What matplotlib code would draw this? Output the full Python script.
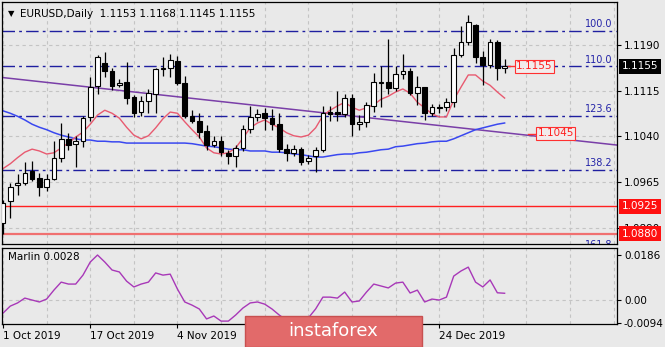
import matplotlib
matplotlib.use('Agg')
import matplotlib.pyplot as plt
from matplotlib.patches import Rectangle
from matplotlib.transforms import blended_transform_factory

# EURUSD daily candles, 1 Oct 2019 .. 6 Jan 2020 (bar index 0..69)
opens = [1.0898, 1.0933, 1.0960, 1.0964, 1.0983, 1.0972, 1.0956, 1.0970, 1.1005, 1.1035,
         1.1027, 1.1032, 1.1072, 1.1123, 1.1160, 1.1147, 1.1125, 1.1129, 1.1105, 1.1080,
         1.1098, 1.1110, 1.1150, 1.1152, 1.1164, 1.1128, 1.1074, 1.1066, 1.1049, 1.1025,
         1.1033, 1.1012, 1.1007, 1.1021, 1.1052, 1.1072, 1.1078, 1.1071, 1.1060, 1.1020,
         1.1013, 1.1019, 1.0999, 1.1008, 1.1018, 1.1080, 1.1080, 1.1077, 1.1103, 1.1060,
         1.1064, 1.1090, 1.1128, 1.1130, 1.1120, 1.1143, 1.1148, 1.1112, 1.1121, 1.1078,
         1.1089, 1.1088, 1.1097, 1.1174, 1.1196, 1.1223, 1.1171, 1.1157, 1.1195, 1.1153]
highs = [1.0935, 1.0964, 1.0978, 1.0998, 1.0999, 1.0980, 1.0978, 1.1032, 1.1062, 1.1046,
         1.1040, 1.1073, 1.1137, 1.1174, 1.1179, 1.1152, 1.1135, 1.1162, 1.1108, 1.1107,
         1.1118, 1.1152, 1.1170, 1.1176, 1.1172, 1.1140, 1.1083, 1.1078, 1.1058, 1.1040,
         1.1040, 1.1018, 1.1025, 1.1058, 1.1090, 1.1085, 1.1087, 1.1085, 1.1078, 1.1027,
         1.1025, 1.1023, 1.1010, 1.1022, 1.1090, 1.1090, 1.1115, 1.1110, 1.1110, 1.1075,
         1.1097, 1.1145, 1.1155, 1.1200, 1.1155, 1.1175, 1.1152, 1.1140, 1.1122, 1.1093,
         1.1093, 1.1103, 1.1186, 1.1222, 1.1240, 1.1225, 1.1180, 1.1200, 1.1198, 1.1168]
lows = [1.0879, 1.0905, 1.0943, 1.0960, 1.0966, 1.0942, 1.0950, 1.0968, 1.0998, 1.1018,
        1.0990, 1.1022, 1.1065, 1.1110, 1.1137, 1.1116, 1.1121, 1.1093, 1.1072, 1.1074,
        1.1078, 1.1078, 1.1140, 1.1137, 1.1124, 1.1070, 1.1062, 1.1037, 1.1018, 1.1022,
        1.1008, 1.0995, 1.0990, 1.1016, 1.1045, 1.1065, 1.1051, 1.1051, 1.1014, 1.1000,
        1.1008, 1.0993, 1.0995, 1.0982, 1.1015, 1.1065, 1.1065, 1.1072, 1.1040, 1.1050,
        1.1055, 1.1080, 1.1088, 1.1110, 1.1115, 1.1135, 1.1108, 1.1092, 1.1067, 1.1074,
        1.1078, 1.1082, 1.1088, 1.1170, 1.1190, 1.1160, 1.1125, 1.1152, 1.1132, 1.1145]
closes = [1.0930, 1.0957, 1.0963, 1.0980, 1.0970, 1.0956, 1.0970, 1.1005, 1.1036, 1.1025,
          1.1032, 1.1070, 1.1122, 1.1170, 1.1147, 1.1123, 1.1128, 1.1103, 1.1079, 1.1098,
          1.1111, 1.1150, 1.1153, 1.1165, 1.1128, 1.1073, 1.1066, 1.1048, 1.1025, 1.1032,
          1.1014, 1.1007, 1.1021, 1.1052, 1.1072, 1.1077, 1.1070, 1.1060, 1.1020, 1.1013,
          1.1019, 1.0998, 1.1005, 1.1017, 1.1078, 1.1077, 1.1077, 1.1103, 1.1060, 1.1064,
          1.1092, 1.1129, 1.1130, 1.1120, 1.1143, 1.1148, 1.1112, 1.1121, 1.1078, 1.1089,
          1.1086, 1.1096, 1.1174, 1.1195, 1.1228, 1.1170, 1.1158, 1.1195, 1.1152, 1.1155]

# fast (red) and slow (blue) moving averages
ma_fast = [1.0987, 1.0995, 1.1005, 1.1014, 1.1019, 1.1016, 1.1011, 1.1013, 1.1021, 1.1029,
           1.1039, 1.1047, 1.1060, 1.1075, 1.1083, 1.1078, 1.1070, 1.1055, 1.1042, 1.1036,
           1.1041, 1.1054, 1.1069, 1.1080, 1.1078, 1.1064, 1.1051, 1.1039, 1.1021, 1.1013,
           1.1011, 1.1013, 1.1021, 1.1037, 1.1054, 1.1062, 1.1067, 1.1060, 1.1054, 1.1046,
           1.1041, 1.1039, 1.1042, 1.1054, 1.1074, 1.1083, 1.1090, 1.1096, 1.1088, 1.1083,
           1.1087, 1.1092, 1.1101, 1.1106, 1.1113, 1.1118, 1.1111, 1.1096, 1.1087, 1.1077,
           1.1072, 1.1072, 1.1100, 1.1121, 1.1141, 1.1141, 1.1131, 1.1124, 1.1113, 1.1103]
ma_slow = [1.1082, 1.1078, 1.1073, 1.1067, 1.1060, 1.1055, 1.1051, 1.1046, 1.1042, 1.1039,
           1.1036, 1.1034, 1.1034, 1.1032, 1.1032, 1.1031, 1.1031, 1.1029, 1.1029, 1.1029,
           1.1029, 1.1029, 1.1029, 1.1029, 1.1029, 1.1029, 1.1028, 1.1026, 1.1024, 1.1023,
           1.1021, 1.1019, 1.1018, 1.1018, 1.1016, 1.1016, 1.1016, 1.1014, 1.1014, 1.1013,
           1.1011, 1.1010, 1.1008, 1.1006, 1.1006, 1.1008, 1.1010, 1.1011, 1.1011, 1.1013,
           1.1014, 1.1016, 1.1018, 1.1019, 1.1023, 1.1024, 1.1026, 1.1028, 1.1029, 1.1031,
           1.1032, 1.1032, 1.1036, 1.1041, 1.1046, 1.1051, 1.1054, 1.1057, 1.1060, 1.1062]

# Marlin oscillator
marlin = [-0.0054, -0.0025, -0.0012, 0.0008, 0.0000, -0.0008, 0.0004, 0.0041, 0.0074, 0.0066,
          0.0066, 0.0103, 0.0157, 0.0186, 0.0157, 0.0124, 0.0116, 0.0078, 0.0054, 0.0066,
          0.0074, 0.0112, 0.0103, 0.0107, 0.0045, -0.0008, -0.0021, -0.0037, -0.0078, -0.0066,
          -0.0087, -0.0087, -0.0062, -0.0033, -0.0012, -0.0008, -0.0017, -0.0037, -0.0062, -0.0083,
          -0.0091, -0.0094, -0.0074, -0.0037, 0.0012, 0.0012, 0.0008, 0.0033, -0.0008, -0.0004,
          0.0033, 0.0066, 0.0058, 0.0050, 0.0070, 0.0074, 0.0029, 0.0041, -0.0008, 0.0004,
          0.0000, 0.0012, 0.0099, 0.0120, 0.0136, 0.0074, 0.0054, 0.0083, 0.0030, 0.0028]

fib_labels = ['100.0', '110.0', '123.6', '138.2', '161.8']
fib_levels = [1.1213, 1.1155, 1.1073, 1.0985, 1.0850]
support_levels = [1.0925, 1.0880]
trend_x = [-1, 85]
trend_y = [1.1138, 1.1025]
target_labels = ['1.1155', '1.1045']
target_prices = [1.1155, 1.1045]

price_ticks = [1.1190, 1.1115, 1.1040, 1.0965, 1.0890]
date_ticks = [0, 12, 24, 60]
date_labels = ['1 Oct 2019', '17 Oct 2019', '4 Nov 2019', '24 Dec 2019']

BG = '#e9e9e9'
plt.rcParams['font.family'] = 'DejaVu Sans'

fig = plt.figure(figsize=(6.65, 3.47), dpi=100, facecolor=BG)
ax = fig.add_axes([2 / 665, 1 - 244 / 347, 615 / 665, 242 / 347], facecolor=BG)
ax2 = fig.add_axes([2 / 665, 1 - 324 / 347, 615 / 665, 76 / 347], facecolor=BG, sharex=ax)

xs = list(range(len(opens)))

# grid
grid_kw = dict(color='#c4c4c4', lw=0.8, ls=(0, (3, 3)), zorder=0)
for t in range(0, 85, 6):
    ax.axvline(t, **grid_kw)
    ax2.axvline(t, **grid_kw)
for p in price_ticks:
    ax.axhline(p, **grid_kw)
ax2.axhline(0, **grid_kw)

# fibo levels
for lab, lv in zip(fib_labels, fib_levels):
    ax.axhline(lv, color='#1f1fa0', lw=1.0, ls=(0, (9, 3, 2, 3)), zorder=1)
    ax.text(83.8, lv + 0.0003, lab, color='#2424a8', fontsize=7, ha='right', va='bottom',
            zorder=1, clip_on=True)

ax.axhline(support_levels[0], color='#ff2020', lw=1.0, zorder=1)
ax.axhline(support_levels[1], color='#f07070', lw=1.6, zorder=1)

ax.plot(trend_x, trend_y, color='#7a3fa8', lw=1.1, zorder=2)
ax.plot(xs, ma_slow, color='#3a48f0', lw=1.1, zorder=2)
ax.plot(xs, ma_fast, color='#e85a70', lw=1.0, zorder=2)

# candles
for i in xs:
    o, h, l, c = opens[i], highs[i], lows[i], closes[i]
    ax.vlines(i, l, h, color='black', lw=0.9, zorder=3)
    lo = min(o, c)
    hgt = max(abs(c - o), 0.00012)
    ax.add_patch(Rectangle((i - 0.32, lo), 0.64, hgt, fc='white' if c >= o else 'black',
                           ec='black', lw=0.8, zorder=4))

# target price labels
ax.plot([69.4, 70.4], [target_prices[0]] * 2, color='#ff3030', lw=1, zorder=4)
ax.plot([72.2, 73.3], [target_prices[1] - 0.0001] * 2, color='#ff3030', lw=1, zorder=4)
for lab, p, x0 in zip(target_labels, target_prices, [70.6, 73.5]):
    ax.text(x0, p, lab, color='#ff2020', fontsize=7.5, ha='left', va='center', zorder=5,
            bbox=dict(boxstyle='square,pad=0.15', fc='#f2ecec', ec='#ff3030', lw=0.8))

ax.set_xlim(-0.14, 84.46)
ax.set_ylim(1.0863, 1.1261)
ax.yaxis.tick_right()
ax.set_yticks(price_ticks)
ax.set_yticklabels(['%.4f' % p for p in price_ticks])
ax.tick_params(axis='y', length=3, labelsize=7.5, pad=2)
ax.tick_params(axis='x', length=0, labelbottom=False)

# highlighted price boxes on the axis
tr = blended_transform_factory(ax.transAxes, ax.transData)
for lab, p, fc in [('1.1155', 1.1155, 'black'), ('1.0925', 1.0925, '#ff1010'), ('1.0880', 1.0880, '#ff1010')]:
    ax.text(1.008, p, lab, transform=tr, color='white', fontsize=7.5, ha='left', va='center',
            clip_on=False, zorder=6,
            bbox=dict(boxstyle='square,pad=0.25', fc=fc, ec='none'))

# Marlin
ax2.plot(xs, marlin, color='#a838b8', lw=1.0)
ax2.set_ylim(-0.0099, 0.0215)
ax2.yaxis.tick_right()
ax2.set_yticks([0.0186, 0.0, -0.0094])
ax2.set_yticklabels(['0.0186', '0.00', '-0.0094'])
ax2.tick_params(axis='y', length=3, labelsize=7.5, pad=2)
ax2.set_xticks(date_ticks)
ax2.set_xticklabels(date_labels)
ax2.tick_params(axis='x', length=3, labelsize=7.5, pad=2)
for t in ax2.get_xticklabels():
    t.set_ha('left')

for a in (ax, ax2):
    for s in a.spines.values():
        s.set_color('black')
        s.set_linewidth(0.9)

fig.text(8 / 665, 1 - 14 / 347, '\u25bc', fontsize=6, va='center', ha='left')
fig.text(20 / 665, 1 - 14 / 347, 'EURUSD,Daily  1.1153 1.1168 1.1145 1.1155', fontsize=7.5,
         va='center', ha='left')
ax2.text(0.01, 0.88, 'Marlin 0.0028', transform=ax2.transAxes, fontsize=7.5, va='center', ha='left')

# instaforex logo
fig.add_artist(Rectangle((245 / 665, 0), 177 / 665, 31 / 347, transform=fig.transFigure,
                         fc='#e26a6a', ec='#c85050', lw=1, zorder=10))
fig.text(333 / 665, 1 - 331 / 347, 'instaforex', color='white', fontsize=13, ha='center',
         va='center', zorder=11)

fig.savefig('out.png', dpi=100, facecolor=BG)
